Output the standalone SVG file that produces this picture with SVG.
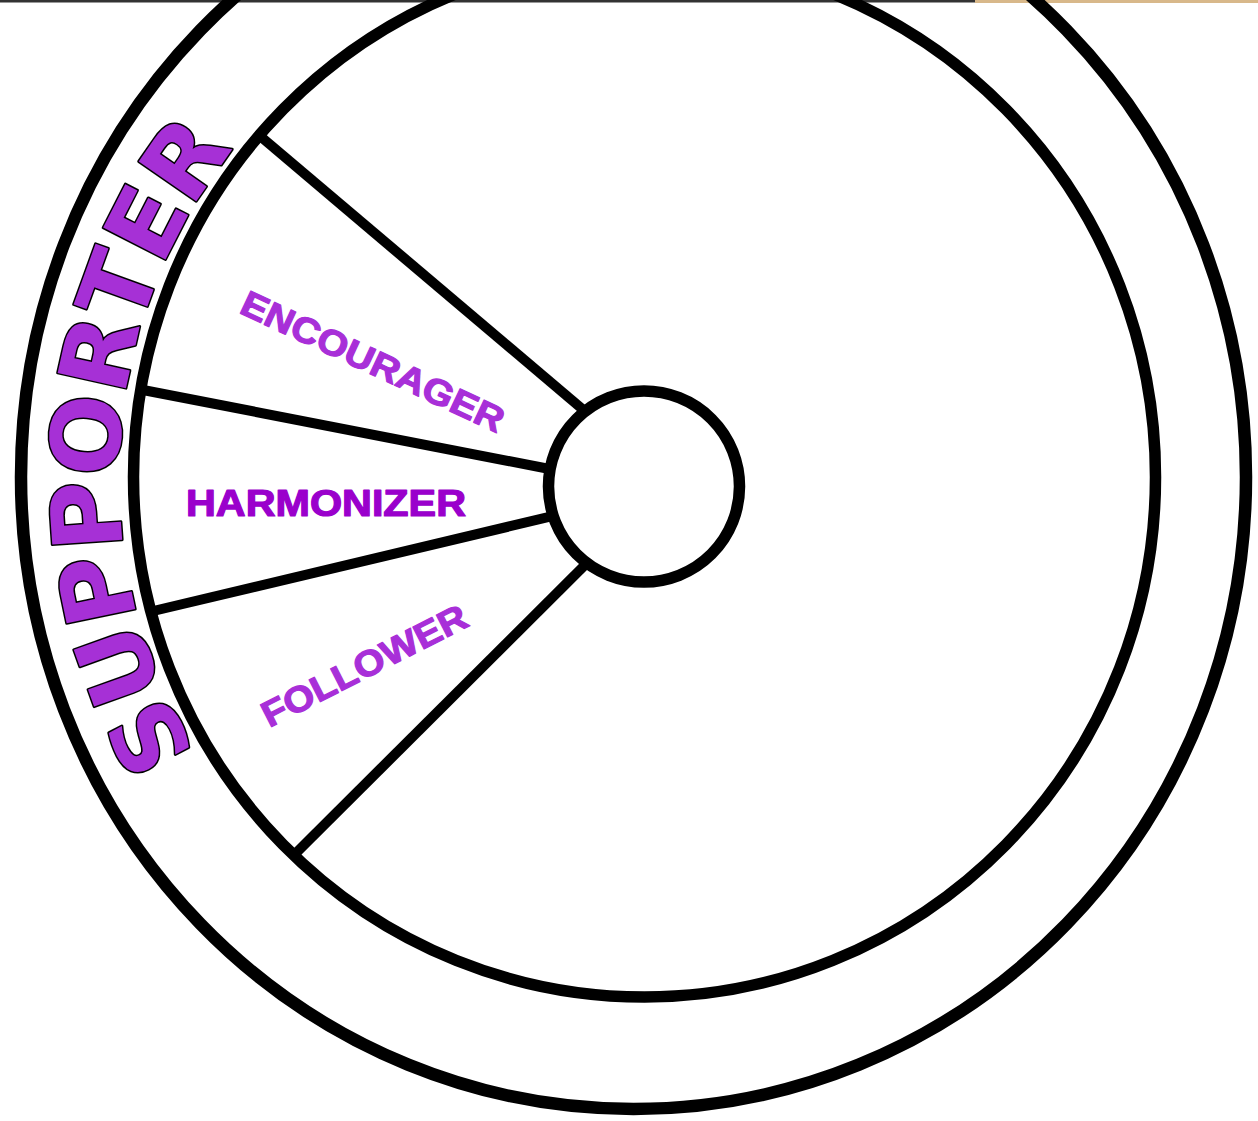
<svg xmlns="http://www.w3.org/2000/svg" width="1258" height="1121" viewBox="0 0 1258 1121">
  <defs>
    <style>
      .ring { fill: none; stroke: #000; }
      .spoke { stroke: #000; stroke-width: 10; stroke-linecap: butt; }
      .lbl { font-family: "Liberation Sans", Arial, sans-serif; font-weight: bold; font-size: 36px; text-anchor: middle; stroke-width: 1.2; stroke-linejoin: round; }
      .light { fill: #a82fd8; stroke: #a82fd8; }
      .dark { fill: #9a00cc; stroke: #9a00cc; }
      .big { font-family: "DejaVu Sans", "Liberation Sans", sans-serif; font-weight: bold; font-size: 96px; fill: #a630d6; stroke: #000; stroke-width: 3; paint-order: stroke fill; stroke-linejoin: round; text-anchor: middle; }
    </style>
    <path id="arc" d="M 306.5 879.2 A 525 525 0 0 1 381.5 22.3" fill="none"/>
  </defs>
  <rect width="1258" height="1121" fill="#fff"/>
  <rect x="0" y="0" width="975" height="2.5" fill="#333"/>
  <rect x="975" y="0" width="283" height="3" fill="#d8b88a"/>

  <g id="outer-ring">
    <ellipse class="ring" cx="633.5" cy="477" rx="612.5" ry="632" stroke-width="12.5"/>
  </g>
  <g id="inner-ring">
    <ellipse class="ring" cx="644.5" cy="477" rx="511" ry="520" stroke-width="11.5"/>
  </g>

  <g id="connectors">
    <line class="spoke" x1="600" y1="424" x2="260" y2="136"/>
    <line class="spoke" x1="570" y1="473" x2="143" y2="390"/>
    <line class="spoke" x1="570" y1="512" x2="149" y2="612"/>
    <line class="spoke" x1="600" y1="550" x2="292" y2="857"/>
  </g>

  <g id="hub">
    <circle cx="644" cy="486.5" r="95.5" fill="#fff" stroke="#000" stroke-width="11.5"/>
  </g>

  <g id="supporter">
    <text class="big"><textPath href="#arc" startOffset="491">SUPPORTER</textPath></text>
  </g>
  <g id="encourager" transform="translate(373 361) rotate(25)">
    <text class="lbl light" x="0" y="13" textLength="286" lengthAdjust="spacingAndGlyphs">ENCOURAGER</text>
  </g>
  <g id="harmonizer">
    <text class="lbl dark" x="326" y="516" textLength="280" lengthAdjust="spacingAndGlyphs">HARMONIZER</text>
  </g>
  <g id="follower" transform="translate(364 665) rotate(-27)">
    <text class="lbl light" x="0" y="13" textLength="226" lengthAdjust="spacingAndGlyphs">FOLLOWER</text>
  </g>
</svg>
